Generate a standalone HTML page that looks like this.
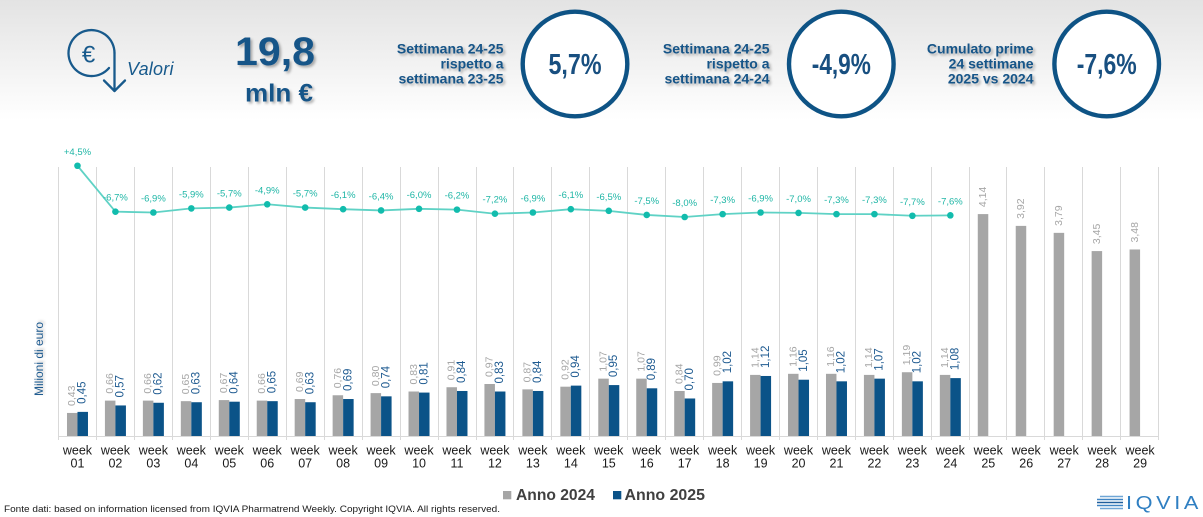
<!DOCTYPE html>
<html>
<head>
<meta charset="utf-8">
<style>
  html,body{margin:0;padding:0;background:#fff;}
  body{width:1203px;height:517px;overflow:hidden;}
  svg{display:block;font-family:"Liberation Sans",Arial,sans-serif;}
</style>
</head>
<body>
<svg width="1203" height="517" viewBox="0 0 1203 517" xmlns="http://www.w3.org/2000/svg">
  <defs>
    <linearGradient id="hdr" x1="0" y1="0" x2="0" y2="1">
      <stop offset="0" stop-color="#e3e3e3"/>
      <stop offset="1" stop-color="#ffffff"/>
    </linearGradient>
    <filter id="sh" x="-10%" y="-30%" width="130%" height="170%">
      <feDropShadow dx="2" dy="2" stdDeviation="1.4" flood-color="#000" flood-opacity="0.3"/>
    </filter>
    <filter id="sh2" x="-20%" y="-20%" width="150%" height="150%">
      <feDropShadow dx="1.5" dy="1.5" stdDeviation="1.2" flood-color="#000" flood-opacity="0.25"/>
    </filter>
  </defs>

  <!-- header background -->
  <rect x="0" y="0" width="1203" height="120" fill="url(#hdr)"/>

  <!-- euro icon -->
  <g fill="none" stroke="#185a8c" stroke-width="2.3" stroke-linecap="round" stroke-linejoin="round">
    <path d="M114.5,53 A23,23 0 1,0 109,68"/>
    <path d="M114.5,53 L114.5,91"/>
    <path d="M104,80.5 L114.5,91 L125,80.5"/>
  </g>
  <text x="88.5" y="62.5" font-size="24" fill="#185a8c" text-anchor="middle">€</text>
  <text x="127" y="75" font-size="18" font-style="italic" fill="#185a8c" textLength="46.5">Valori</text>

  <!-- 19,8 mln € -->
  <g filter="url(#sh)">
    <text x="235" y="65" font-size="40" font-weight="bold" fill="#175488" textLength="80" lengthAdjust="spacingAndGlyphs">19,8</text>
    <text x="245" y="101.5" font-size="25" font-weight="bold" fill="#175488" textLength="68" lengthAdjust="spacingAndGlyphs">mln €</text>
  </g>

  <!-- header text blocks -->
  <g filter="url(#sh)" font-size="14" font-weight="bold" fill="#175488" text-anchor="end">
    <text x="503.5" y="53.5">Settimana 24-25</text>
    <text x="503.5" y="68.5">rispetto a</text>
    <text x="503.5" y="83.5">settimana 23-25</text>
    <text x="769.5" y="53.5">Settimana 24-25</text>
    <text x="769.5" y="68.5">rispetto a</text>
    <text x="769.5" y="83.5">settimana 24-24</text>
    <text x="1033.5" y="53.5">Cumulato prime</text>
    <text x="1033.5" y="68.5">24 settimane</text>
    <text x="1033.5" y="83.5">2025 vs 2024</text>
  </g>

  <!-- circles -->
  <g fill="#ffffff" stroke="#0e5385" stroke-width="4.4">
    <circle cx="575" cy="64" r="52.3"/>
    <circle cx="841.3" cy="64" r="52.3"/>
    <circle cx="1106.7" cy="64" r="52.3"/>
  </g>
  <g font-size="29" font-weight="bold" fill="#184f80" text-anchor="middle">
    <text x="575" y="74" textLength="53" lengthAdjust="spacingAndGlyphs">5,7%</text>
    <text x="841.3" y="74" textLength="59" lengthAdjust="spacingAndGlyphs">-4,9%</text>
    <text x="1106.7" y="74" textLength="60" lengthAdjust="spacingAndGlyphs">-7,6%</text>
  </g>

  <!-- gridlines -->
  <path fill="none" stroke="#d9d9d9" stroke-width="1" d="
    M58.5,167V440 M96.5,167V440 M134.5,167V440 M172.5,167V440 M210.5,167V440
    M248.5,167V440 M286.5,167V440 M324.5,167V440 M362.5,167V440 M400.5,167V440
    M438.5,167V440 M476.5,167V440 M513.5,167V440 M551.5,167V440 M589.5,167V440
    M627.5,167V440 M665.5,167V440 M703.5,167V440 M741.5,167V440 M779.5,167V440
    M817.5,167V440 M855.5,167V440 M893.5,167V440 M931.5,167V440 M969.5,167V440
    M1006.5,167V440 M1044.5,167V440 M1082.5,167V440 M1120.5,167V440 M1158.5,167V440
    M58.5,436.5H1158.5"/>

  <!-- y axis title -->
  <text transform="translate(39,359) rotate(-90)" font-size="12" fill="#1f5a8f" text-anchor="middle" dominant-baseline="central" filter="url(#sh2)">Milioni di euro</text>

  <!-- gray bars (2024) -->
  <g fill="#a6a6a6">
    <rect x="66.98" y="412.95" width="10.5" height="23.05"/>
    <rect x="104.93" y="400.62" width="10.5" height="35.38"/>
    <rect x="142.88" y="400.62" width="10.5" height="35.38"/>
    <rect x="180.83" y="401.16" width="10.5" height="34.84"/>
    <rect x="218.78" y="400.09" width="10.5" height="35.91"/>
    <rect x="256.73" y="400.62" width="10.5" height="35.38"/>
    <rect x="294.68" y="399.02" width="10.5" height="36.98"/>
    <rect x="332.63" y="395.26" width="10.5" height="40.74"/>
    <rect x="370.58" y="393.12" width="10.5" height="42.88"/>
    <rect x="408.53" y="391.51" width="10.5" height="44.49"/>
    <rect x="446.48" y="387.22" width="10.5" height="48.78"/>
    <rect x="484.43" y="384.01" width="10.5" height="51.99"/>
    <rect x="522.38" y="389.37" width="10.5" height="46.63"/>
    <rect x="560.33" y="386.69" width="10.5" height="49.31"/>
    <rect x="598.28" y="378.65" width="10.5" height="57.35"/>
    <rect x="636.23" y="378.65" width="10.5" height="57.35"/>
    <rect x="674.18" y="390.98" width="10.5" height="45.02"/>
    <rect x="712.13" y="382.94" width="10.5" height="53.06"/>
    <rect x="750.08" y="374.90" width="10.5" height="61.10"/>
    <rect x="788.03" y="373.82" width="10.5" height="62.18"/>
    <rect x="825.98" y="373.82" width="10.5" height="62.18"/>
    <rect x="863.93" y="374.90" width="10.5" height="61.10"/>
    <rect x="901.88" y="372.22" width="10.5" height="63.78"/>
    <rect x="939.83" y="374.90" width="10.5" height="61.10"/>
    <rect x="977.78" y="214.10" width="10.5" height="221.90"/>
    <rect x="1015.73" y="225.89" width="10.5" height="210.11"/>
    <rect x="1053.68" y="232.86" width="10.5" height="203.14"/>
    <rect x="1091.63" y="251.08" width="10.5" height="184.92"/>
    <rect x="1129.58" y="249.47" width="10.5" height="186.53"/>
  </g>

  <!-- blue bars (2025) -->
  <g fill="#0b5388">
    <rect x="77.48" y="411.88" width="10.5" height="24.12"/>
    <rect x="115.43" y="405.45" width="10.5" height="30.55"/>
    <rect x="153.38" y="402.77" width="10.5" height="33.23"/>
    <rect x="191.33" y="402.23" width="10.5" height="33.77"/>
    <rect x="229.28" y="401.70" width="10.5" height="34.30"/>
    <rect x="267.23" y="401.16" width="10.5" height="34.84"/>
    <rect x="305.18" y="402.23" width="10.5" height="33.77"/>
    <rect x="343.13" y="399.02" width="10.5" height="36.98"/>
    <rect x="381.08" y="396.34" width="10.5" height="39.66"/>
    <rect x="419.03" y="392.58" width="10.5" height="43.42"/>
    <rect x="456.98" y="390.98" width="10.5" height="45.02"/>
    <rect x="494.93" y="391.51" width="10.5" height="44.49"/>
    <rect x="532.88" y="390.98" width="10.5" height="45.02"/>
    <rect x="570.83" y="385.62" width="10.5" height="50.38"/>
    <rect x="608.78" y="385.08" width="10.5" height="50.92"/>
    <rect x="646.73" y="388.30" width="10.5" height="47.70"/>
    <rect x="684.68" y="398.48" width="10.5" height="37.52"/>
    <rect x="722.63" y="381.33" width="10.5" height="54.67"/>
    <rect x="760.58" y="375.97" width="10.5" height="60.03"/>
    <rect x="798.53" y="379.72" width="10.5" height="56.28"/>
    <rect x="836.48" y="381.33" width="10.5" height="54.67"/>
    <rect x="874.43" y="378.65" width="10.5" height="57.35"/>
    <rect x="912.38" y="381.33" width="10.5" height="54.67"/>
    <rect x="950.33" y="378.11" width="10.5" height="57.89"/>
  </g>

  <!-- gray value labels -->
  <g font-size="10.5" fill="#a6a6a6" dominant-baseline="central">
    <text transform="translate(72.2,406) rotate(-90)">0,43</text>
    <text transform="translate(110.2,393.6) rotate(-90)">0,66</text>
    <text transform="translate(148.1,393.6) rotate(-90)">0,66</text>
    <text transform="translate(186.1,394.2) rotate(-90)">0,65</text>
    <text transform="translate(224.0,393.1) rotate(-90)">0,67</text>
    <text transform="translate(262.0,393.6) rotate(-90)">0,66</text>
    <text transform="translate(299.9,392.0) rotate(-90)">0,69</text>
    <text transform="translate(337.9,388.3) rotate(-90)">0,76</text>
    <text transform="translate(375.8,386.1) rotate(-90)">0,80</text>
    <text transform="translate(413.8,384.5) rotate(-90)">0,83</text>
    <text transform="translate(451.7,380.2) rotate(-90)">0,91</text>
    <text transform="translate(489.7,377.0) rotate(-90)">0,97</text>
    <text transform="translate(527.6,382.4) rotate(-90)">0,87</text>
    <text transform="translate(565.6,379.7) rotate(-90)">0,92</text>
    <text transform="translate(603.5,371.6) rotate(-90)">1,07</text>
    <text transform="translate(641.5,371.6) rotate(-90)">1,07</text>
    <text transform="translate(679.4,384.0) rotate(-90)">0,84</text>
    <text transform="translate(717.4,375.9) rotate(-90)">0,99</text>
    <text transform="translate(755.3,367.9) rotate(-90)">1,14</text>
    <text transform="translate(793.3,366.8) rotate(-90)">1,16</text>
    <text transform="translate(831.2,366.8) rotate(-90)">1,16</text>
    <text transform="translate(869.2,367.9) rotate(-90)">1,14</text>
    <text transform="translate(907.1,365.2) rotate(-90)">1,19</text>
    <text transform="translate(945.1,367.9) rotate(-90)">1,14</text>
    <text transform="translate(983.0,207.1) rotate(-90)">4,14</text>
    <text transform="translate(1021.0,218.9) rotate(-90)">3,92</text>
    <text transform="translate(1058.9,225.9) rotate(-90)">3,79</text>
    <text transform="translate(1096.9,244.1) rotate(-90)">3,45</text>
    <text transform="translate(1134.8,242.5) rotate(-90)">3,48</text>
  </g>

  <!-- blue value labels -->
  <g font-size="11.5" fill="#1f5b91" dominant-baseline="central">
    <text transform="translate(82.7,403.9) rotate(-90)">0,45</text>
    <text transform="translate(120.7,397.5) rotate(-90)">0,57</text>
    <text transform="translate(158.6,394.8) rotate(-90)">0,62</text>
    <text transform="translate(196.6,394.2) rotate(-90)">0,63</text>
    <text transform="translate(234.5,393.7) rotate(-90)">0,64</text>
    <text transform="translate(272.5,393.2) rotate(-90)">0,65</text>
    <text transform="translate(310.4,394.2) rotate(-90)">0,63</text>
    <text transform="translate(348.4,391.0) rotate(-90)">0,69</text>
    <text transform="translate(386.3,388.3) rotate(-90)">0,74</text>
    <text transform="translate(424.3,384.6) rotate(-90)">0,81</text>
    <text transform="translate(462.2,383.0) rotate(-90)">0,84</text>
    <text transform="translate(500.2,383.5) rotate(-90)">0,83</text>
    <text transform="translate(538.1,383.0) rotate(-90)">0,84</text>
    <text transform="translate(576.1,377.6) rotate(-90)">0,94</text>
    <text transform="translate(614.0,377.1) rotate(-90)">0,95</text>
    <text transform="translate(652.0,380.3) rotate(-90)">0,89</text>
    <text transform="translate(689.9,390.5) rotate(-90)">0,70</text>
    <text transform="translate(727.9,373.3) rotate(-90)">1,02</text>
    <text transform="translate(765.8,368.0) rotate(-90)">1,12</text>
    <text transform="translate(803.8,371.7) rotate(-90)">1,05</text>
    <text transform="translate(841.7,373.3) rotate(-90)">1,02</text>
    <text transform="translate(879.7,370.7) rotate(-90)">1,07</text>
    <text transform="translate(917.6,373.3) rotate(-90)">1,02</text>
    <text transform="translate(955.6,370.1) rotate(-90)">1,08</text>
  </g>

  <!-- line series -->
  <polyline fill="none" stroke="#5fd2c5" stroke-width="1.8" points="
    77.48,165.75 115.43,211.67 153.38,212.49 191.33,208.39 229.28,207.57
    267.23,204.29 305.18,207.57 343.13,209.21 381.08,210.44 419.03,208.80
    456.98,209.62 494.93,213.72 532.88,212.49 570.83,209.21 608.78,210.85
    646.73,214.95 684.68,217.00 722.63,214.13 760.58,212.49 798.53,212.90
    836.48,214.13 874.43,214.13 912.38,215.77 950.33,215.36"/>
  <g fill="#12bcad">
    <circle cx="77.48" cy="165.75" r="3.3"/>
    <circle cx="115.43" cy="211.67" r="3.3"/>
    <circle cx="153.38" cy="212.49" r="3.3"/>
    <circle cx="191.33" cy="208.39" r="3.3"/>
    <circle cx="229.28" cy="207.57" r="3.3"/>
    <circle cx="267.23" cy="204.29" r="3.3"/>
    <circle cx="305.18" cy="207.57" r="3.3"/>
    <circle cx="343.13" cy="209.21" r="3.3"/>
    <circle cx="381.08" cy="210.44" r="3.3"/>
    <circle cx="419.03" cy="208.80" r="3.3"/>
    <circle cx="456.98" cy="209.62" r="3.3"/>
    <circle cx="494.93" cy="213.72" r="3.3"/>
    <circle cx="532.88" cy="212.49" r="3.3"/>
    <circle cx="570.83" cy="209.21" r="3.3"/>
    <circle cx="608.78" cy="210.85" r="3.3"/>
    <circle cx="646.73" cy="214.95" r="3.3"/>
    <circle cx="684.68" cy="217.00" r="3.3"/>
    <circle cx="722.63" cy="214.13" r="3.3"/>
    <circle cx="760.58" cy="212.49" r="3.3"/>
    <circle cx="798.53" cy="212.90" r="3.3"/>
    <circle cx="836.48" cy="214.13" r="3.3"/>
    <circle cx="874.43" cy="214.13" r="3.3"/>
    <circle cx="912.38" cy="215.77" r="3.3"/>
    <circle cx="950.33" cy="215.36" r="3.3"/>
  </g>
  <g font-size="9.5" fill="#1fb6a6" text-anchor="middle">
    <text x="77.48" y="154.8">+4,5%</text>
    <text x="115.43" y="200.7">-6,7%</text>
    <text x="153.38" y="201.5">-6,9%</text>
    <text x="191.33" y="197.4">-5,9%</text>
    <text x="229.28" y="196.6">-5,7%</text>
    <text x="267.23" y="193.3">-4,9%</text>
    <text x="305.18" y="196.6">-5,7%</text>
    <text x="343.13" y="198.2">-6,1%</text>
    <text x="381.08" y="199.4">-6,4%</text>
    <text x="419.03" y="197.8">-6,0%</text>
    <text x="456.98" y="198.6">-6,2%</text>
    <text x="494.93" y="202.7">-7,2%</text>
    <text x="532.88" y="201.5">-6,9%</text>
    <text x="570.83" y="198.2">-6,1%</text>
    <text x="608.78" y="199.9">-6,5%</text>
    <text x="646.73" y="204.0">-7,5%</text>
    <text x="684.68" y="206.0">-8,0%</text>
    <text x="722.63" y="203.1">-7,3%</text>
    <text x="760.58" y="201.5">-6,9%</text>
    <text x="798.53" y="201.9">-7,0%</text>
    <text x="836.48" y="203.1">-7,3%</text>
    <text x="874.43" y="203.1">-7,3%</text>
    <text x="912.38" y="204.8">-7,7%</text>
    <text x="950.33" y="204.4">-7,6%</text>
  </g>

  <!-- x axis labels -->
  <g font-size="12.5" fill="#1a1a1a" text-anchor="middle">
    <text x="77.48" y="454.3">week</text><text x="77.48" y="467.7">01</text>
    <text x="115.43" y="454.3">week</text><text x="115.43" y="467.7">02</text>
    <text x="153.38" y="454.3">week</text><text x="153.38" y="467.7">03</text>
    <text x="191.33" y="454.3">week</text><text x="191.33" y="467.7">04</text>
    <text x="229.28" y="454.3">week</text><text x="229.28" y="467.7">05</text>
    <text x="267.23" y="454.3">week</text><text x="267.23" y="467.7">06</text>
    <text x="305.18" y="454.3">week</text><text x="305.18" y="467.7">07</text>
    <text x="343.13" y="454.3">week</text><text x="343.13" y="467.7">08</text>
    <text x="381.08" y="454.3">week</text><text x="381.08" y="467.7">09</text>
    <text x="419.03" y="454.3">week</text><text x="419.03" y="467.7">10</text>
    <text x="456.98" y="454.3">week</text><text x="456.98" y="467.7">11</text>
    <text x="494.93" y="454.3">week</text><text x="494.93" y="467.7">12</text>
    <text x="532.88" y="454.3">week</text><text x="532.88" y="467.7">13</text>
    <text x="570.83" y="454.3">week</text><text x="570.83" y="467.7">14</text>
    <text x="608.78" y="454.3">week</text><text x="608.78" y="467.7">15</text>
    <text x="646.73" y="454.3">week</text><text x="646.73" y="467.7">16</text>
    <text x="684.68" y="454.3">week</text><text x="684.68" y="467.7">17</text>
    <text x="722.63" y="454.3">week</text><text x="722.63" y="467.7">18</text>
    <text x="760.58" y="454.3">week</text><text x="760.58" y="467.7">19</text>
    <text x="798.53" y="454.3">week</text><text x="798.53" y="467.7">20</text>
    <text x="836.48" y="454.3">week</text><text x="836.48" y="467.7">21</text>
    <text x="874.43" y="454.3">week</text><text x="874.43" y="467.7">22</text>
    <text x="912.38" y="454.3">week</text><text x="912.38" y="467.7">23</text>
    <text x="950.33" y="454.3">week</text><text x="950.33" y="467.7">24</text>
    <text x="988.28" y="454.3">week</text><text x="988.28" y="467.7">25</text>
    <text x="1026.23" y="454.3">week</text><text x="1026.23" y="467.7">26</text>
    <text x="1064.18" y="454.3">week</text><text x="1064.18" y="467.7">27</text>
    <text x="1102.13" y="454.3">week</text><text x="1102.13" y="467.7">28</text>
    <text x="1140.08" y="454.3">week</text><text x="1140.08" y="467.7">29</text>
  </g>

  <!-- legend -->
  <rect x="503" y="491" width="8.3" height="8.3" fill="#a6a6a6"/>
  <text x="516" y="500" font-size="15.6" font-weight="bold" fill="#404040" textLength="79" lengthAdjust="spacingAndGlyphs">Anno 2024</text>
  <rect x="613" y="491" width="8.3" height="8.3" fill="#0b5388"/>
  <text x="624.5" y="500" font-size="15.6" font-weight="bold" fill="#404040" textLength="80.5" lengthAdjust="spacingAndGlyphs">Anno 2025</text>

  <!-- footer -->
  <text x="4" y="512" font-size="9" fill="#1a1a1a" textLength="496" lengthAdjust="spacingAndGlyphs">Fonte dati: based on information licensed from IQVIA Pharmatrend Weekly. Copyright IQVIA. All rights reserved.</text>

  <!-- IQVIA logo -->
  <g stroke-width="1.6" stroke-linecap="butt">
    <line x1="1100" y1="496.5" x2="1123" y2="496.5" stroke="#6fa6d6"/>
    <line x1="1097" y1="499.5" x2="1123" y2="499.5" stroke="#3f84c3"/>
    <line x1="1097" y1="502.5" x2="1123" y2="502.5" stroke="#1e5e9c"/>
    <line x1="1097" y1="505.5" x2="1123" y2="505.5" stroke="#3f84c3"/>
    <line x1="1100" y1="508.5" x2="1123" y2="508.5" stroke="#6fa6d6"/>
  </g>
  <text x="1126" y="509" font-size="18" fill="#2f7fc2" textLength="76" lengthAdjust="spacingAndGlyphs" letter-spacing="3">IQVIA</text>
</svg>
</body>
</html>
